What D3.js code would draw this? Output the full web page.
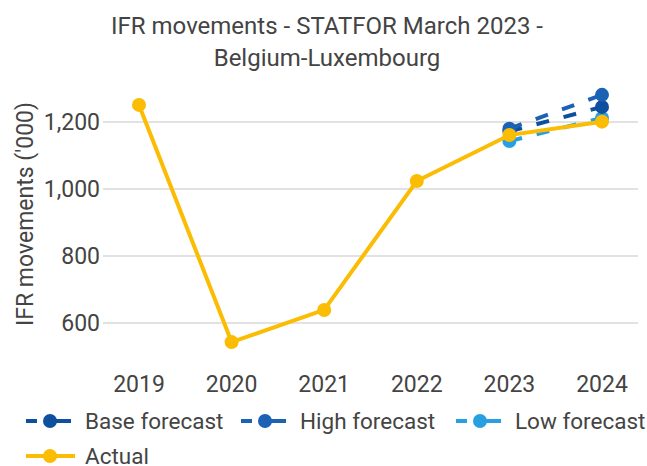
<!DOCTYPE html>
<html>
<head>
<meta charset="utf-8">
<script src="https://cdn.jsdelivr.net/npm/d3@7"></script>
<style>
  body { margin: 0; background: #fff; }
  text { font-family: Roboto, sans-serif; fill: #444; }
</style>
</head>
<body>
<script>
// data
const years = ["2019", "2020", "2021", "2022", "2023", "2024"];
const actual = [1251, 543, 639, 1024, 1161, 1201];
const baseForecast = [null, null, null, null, 1172, 1245];
const highForecast = [null, null, null, null, 1180, 1281];
const lowForecast = [null, null, null, null, 1143, 1212];
const yTicks = [600, 800, 1000, 1200];

const width = 647, height = 466;
const svg = d3.select("body").append("svg")
    .attr("width", width)
    .attr("height", height);

const x = d3.scalePoint().domain(years).range([139, 602]);
const y = d3.scaleLinear().domain([500, 1300]).range([356.5, 88.5]);

// title
svg.append("text")
    .attr("x", 327).attr("y", 34)
    .attr("text-anchor", "middle")
    .style("font-size", "24px")
    .text("IFR movements - STATFOR March 2023 -");
svg.append("text")
    .attr("x", 327).attr("y", 66)
    .attr("text-anchor", "middle")
    .style("font-size", "24px")
    .text("Belgium-Luxembourg");

// gridlines + y labels
let grid = svg.append("g").attr("class", "grid");
grid.selectAll("line")
    .data(yTicks)
    .enter().append("line")
    .attr("x1", 103).attr("x2", 638)
    .attr("y1", d => y(d)).attr("y2", d => y(d))
    .style("stroke", "#d9d9d9")
    .style("stroke-width", 1.3);
grid.selectAll("text")
    .data(yTicks)
    .enter().append("text")
    .attr("x", 100).attr("y", d => y(d))
    .attr("dy", "0.35em")
    .attr("text-anchor", "end")
    .style("font-size", "23px")
    .text(d => d3.format(",")(d));

// x labels
svg.append("g").selectAll("text")
    .data(years)
    .enter().append("text")
    .attr("x", d => x(d)).attr("y", 392)
    .attr("text-anchor", "middle")
    .style("font-size", "23px")
    .text(d => d);

// y axis title
svg.append("text")
    .attr("transform", "translate(33," + 214 + ") rotate(-90)")
    .attr("text-anchor", "middle")
    .style("font-size", "23px")
    .text("IFR movements ('000)");

const series = [
  {name: "Base forecast", values: baseForecast, color: "#0e4f9f", dash: "13,15"},
  {name: "High forecast", values: highForecast, color: "#1b62b5", dash: "13,15"},
  {name: "Low forecast", values: lowForecast, color: "#28a0df", dash: "13,15"},
  {name: "Actual", values: actual, color: "#fbbc04", dash: null}
];

const line = d3.line()
    .defined(d => d.v != null)
    .x(d => x(d.year))
    .y(d => y(d.v));

// draw low first so the darker ones sit on top, actual last
const drawOrder = [series[2], series[0], series[1], series[3]];
drawOrder.forEach(function(s) {
  let pts = years.map((yr, i) => ({year: yr, v: s.values[i]}));
  let g = svg.append("g");
  g.append("path")
      .datum(pts)
      .attr("d", line)
      .style("fill", "none")
      .style("stroke", s.color)
      .style("stroke-width", 4)
      .style("stroke-dasharray", s.dash);
  g.selectAll("circle")
      .data(pts.filter(d => d.v != null))
      .enter().append("circle")
      .attr("cx", d => x(d.year))
      .attr("cy", d => y(d.v))
      .attr("r", 7)
      .style("fill", s.color);
});

// legend
const legendPos = [
  {x: 26, y: 421}, {x: 241, y: 421}, {x: 456, y: 421}, {x: 26, y: 456}
];
series.forEach(function(s, i) {
  let p = legendPos[i];
  let g = svg.append("g").attr("transform", "translate(" + p.x + "," + p.y + ")");
  if (s.dash) {
    g.append("line").attr("x1", 0).attr("x2", 11).attr("y1", 0).attr("y2", 0)
        .style("stroke", s.color).style("stroke-width", 4);
    g.append("line").attr("x1", 30).attr("x2", 45).attr("y1", 0).attr("y2", 0)
        .style("stroke", s.color).style("stroke-width", 4);
  } else {
    g.append("line").attr("x1", 0).attr("x2", 49).attr("y1", 0).attr("y2", 0)
        .style("stroke", s.color).style("stroke-width", 4);
  }
  g.append("circle").attr("cx", 24).attr("cy", 0).attr("r", 7)
      .style("fill", s.color);
  g.append("text")
      .attr("x", 59).attr("y", 0).attr("dy", "0.35em")
      .style("font-size", "22.5px")
      .text(s.name);
});
</script>
</body>
</html>
